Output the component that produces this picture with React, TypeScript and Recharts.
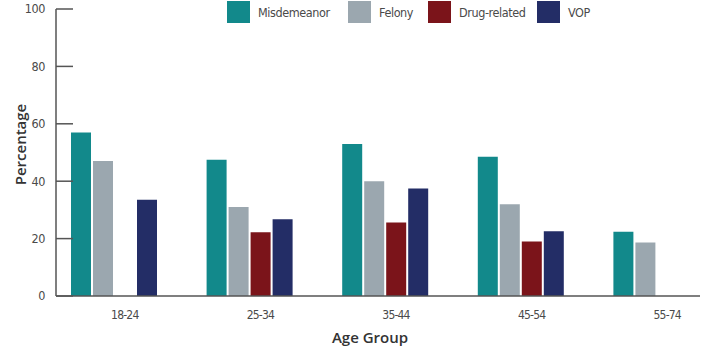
import React from 'react';
import { BarChart, Bar, XAxis, YAxis, Legend } from 'recharts';

const ageGroups = ['18-24', '25-34', '35-44', '45-54', '55-74'];
const misdemeanor = [57, 47.5, 53, 48.5, 22.4];
const felony = [47, 31, 40, 32, 18.6];
const drugRelated = [null, 22.2, 25.6, 19, null];
const vop = [33.5, 26.7, 37.5, 22.6, null];
const seriesNames = ['Misdemeanor', 'Felony', 'Drug-related', 'VOP'];
const yTicks = [0, 20, 40, 60, 80, 100];

const data = ageGroups.map((group, i) => ({
  group,
  misdemeanor: misdemeanor[i],
  felony: felony[i],
  drug: drugRelated[i],
  vop: vop[i],
}));

const narrow = '"Liberation Sans Narrow", "DejaVu Sans Condensed", sans-serif';
const heading = '"Open Sans", "Noto Sans", sans-serif';
const axisColor = '#555';
const textColor = '#4a4a4a';

const YTick = (props: any) => {
  const { x, y, payload } = props;
  return (
    <g>
      <line x1={x + 11} x2={x + 28} y1={y} y2={y} stroke={axisColor} strokeWidth={1.5} />
      <text x={x} y={y} dy="0.35em" textAnchor="end" fontFamily={narrow} fontSize={12.5} letterSpacing={-0.4} fill={textColor}>
        {payload.value}
      </text>
    </g>
  );
};

const XTick = (props: any) => {
  const { x, y, payload } = props;
  return (
    <text x={x + 11} y={y} dy="0.35em" textAnchor="middle" fontFamily={narrow} fontSize={12} letterSpacing={-0.8} fill={textColor}>
      {payload.value}
    </text>
  );
};

const legendWidths = [121, 80, 109, 60];

const LegendContent = (props: any) => {
  const items = [...(props.payload || [])].sort(
    (a: any, b: any) => seriesNames.indexOf(a.value) - seriesNames.indexOf(b.value)
  );
  return (
    <div style={{ display: 'flex', alignItems: 'center' }}>
      {items.map((entry: any, i: number) => (
        <div key={entry.value} style={{ display: 'flex', alignItems: 'center', width: legendWidths[i] }}>
          <span style={{ width: 23, height: 22, background: entry.color, display: 'inline-block' }} />
          <span style={{ marginLeft: 8, fontFamily: narrow, fontSize: 12.5, letterSpacing: -0.4, color: textColor }}>
            {entry.value}
          </span>
        </div>
      ))}
    </div>
  );
};

const YLabel = (props: any) => {
  const { viewBox } = props;
  const cx = viewBox.x + 20;
  const cy = viewBox.y + viewBox.height / 2 - 8;
  return (
    <text
      x={cx}
      y={cy}
      transform={`rotate(-90, ${cx}, ${cy})`}
      textAnchor="middle"
      dominantBaseline="central"
      fontFamily={heading}
      fontWeight={600}
      fontSize={15}
      fill="#333"
    >
      Percentage
    </text>
  );
};

export default function App() {
  return (
    <div style={{ position: 'absolute', left: 0, top: 0, background: '#fff' }}>
      <BarChart
        width={701}
        height={352}
        data={data}
        margin={{ top: 9, right: 1, bottom: 0, left: 0 }}
        barSize={20}
        barGap={2}
      >
        <XAxis
          dataKey="group"
          height={56}
          padding={{ left: -10, right: -24 }}
          axisLine={{ stroke: axisColor, strokeWidth: 1.5 }}
          tickLine={false}
          tickSize={0}
          tickMargin={19}
          tick={<XTick />}
          interval={0}
          label={{
            value: 'Age Group',
            position: 'insideBottom',
            offset: 9,
            dx: -8,
            style: { fontFamily: heading, fontWeight: 600, fontSize: 15, fill: '#333' },
          }}
        />
        <YAxis
          width={56}
          domain={[0, 100]}
          ticks={yTicks}
          interval={0}
          axisLine={{ stroke: axisColor, strokeWidth: 1.5 }}
          tickLine={false}
          tickSize={0}
          tickMargin={11}
          tick={<YTick />}
          label={<YLabel />}
        />
        <Legend
          layout="horizontal"
          verticalAlign="middle"
          wrapperStyle={{ top: 1, left: 227, width: 'auto' }}
          content={<LegendContent />}
        />
        <Bar dataKey="misdemeanor" name="Misdemeanor" fill="#12898B" isAnimationActive={false} />
        <Bar dataKey="felony" name="Felony" fill="#9BA7AF" isAnimationActive={false} />
        <Bar dataKey="drug" name="Drug-related" fill="#7B141A" isAnimationActive={false} />
        <Bar dataKey="vop" name="VOP" fill="#232D66" isAnimationActive={false} />
      </BarChart>
    </div>
  );
}
